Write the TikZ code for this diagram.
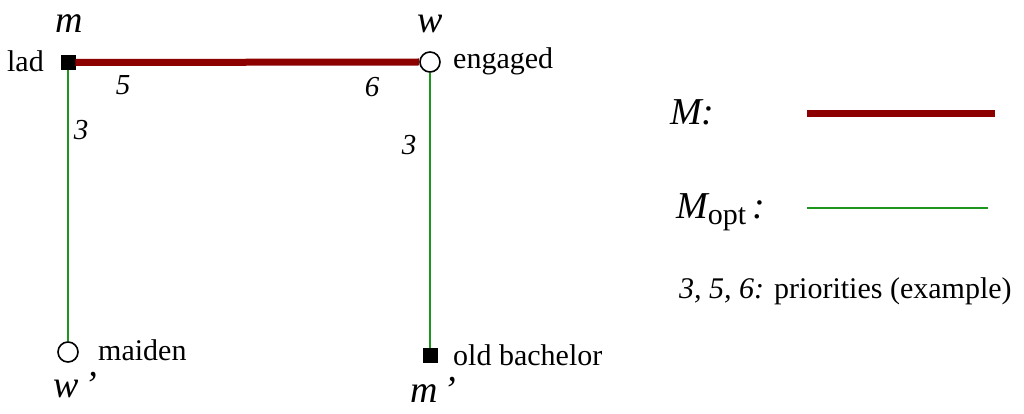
\documentclass[tikz,border=0pt]{standalone}
\usepackage{fontspec}
\setmainfont{Liberation Serif}
\definecolor{matchred}{RGB}{140,0,0}
\definecolor{optgreen}{RGB}{30,150,30}
\begin{document}
\begin{tikzpicture}[x=1pt,y=-1pt,
  man/.style={draw=black,fill=black,minimum size=14pt,inner sep=0pt,line width=0.8pt},
  woman/.style={circle,draw=black,fill=white,minimum size=20pt,inner sep=0pt,line width=1.6pt},
  matchM/.style={draw=matchred,line width=7pt},
  matchopt/.style={draw=optgreen,line width=1.8pt},
  lbl/.style={font=\fontsize{30}{36}\selectfont,inner sep=0pt},
  big/.style={font=\fontsize{38}{44}\selectfont\itshape,inner sep=0pt},
  prio/.style={font=\fontsize{29}{34}\selectfont\itshape,inner sep=0pt}]
\useasboundingbox (0,0) rectangle (1024,414);
% vertices
\node[man] (m) at (68,62.5) {};
\node[woman] (w) at (430,62) {};
\node[woman] (wp) at (68,352) {};
\node[man] (mp) at (430,355) {};
% edges
\draw[matchopt] (m) -- (wp);
\draw[matchopt] (w) -- (mp);
\draw[matchM] (m.east) -- (w.west);
% labels
\node[big,anchor=base] (lm) at (69,33) {m};
\node[big,anchor=base] (lw) at (430,33) {w};
\node[big,anchor=base west] (lwp) at (53,397) {w\,'};
\node[big,anchor=base west] (lmp) at (410,402) {m\,'};
\node[lbl,anchor=base east] (lad) at (44,72) {lad};
\node[lbl,anchor=base west] (eng) at (453,69) {engaged};
\node[lbl,anchor=base west] (mai) at (98,360) {maiden};
\node[lbl,anchor=base west] (old) at (453,365) {old bachelor};
\node[prio,anchor=base] (p5) at (123,95) {5};
\node[prio,anchor=base] (p3a) at (81,140) {3};
\node[prio,anchor=base] (p6) at (372,97) {6};
\node[prio,anchor=base] (p3b) at (409,155) {3};
% legend
\coordinate (lr1) at (807,113.5);
\coordinate (lr2) at (995,113.5);
\coordinate (lg1) at (807,208);
\coordinate (lg2) at (988,208);
\draw[matchM] (lr1) -- (lr2);
\draw[matchopt] (lg1) -- (lg2);
\node[font=\fontsize{38}{44}\selectfont,inner sep=0pt,anchor=base west] (legM) at (670,125) {\itshape M:};
\node[font=\fontsize{38}{44}\selectfont,inner sep=0pt,anchor=base west] (legMo) at (676,218) {\itshape M\upshape\raisebox{-6pt}{\fontsize{30}{36}\selectfont opt}\itshape\,:};
\node[lbl,anchor=base west] (legp) at (679,298) {\itshape 3, 5, 6:\upshape{} priorities (example)};
\end{tikzpicture}
\end{document}
